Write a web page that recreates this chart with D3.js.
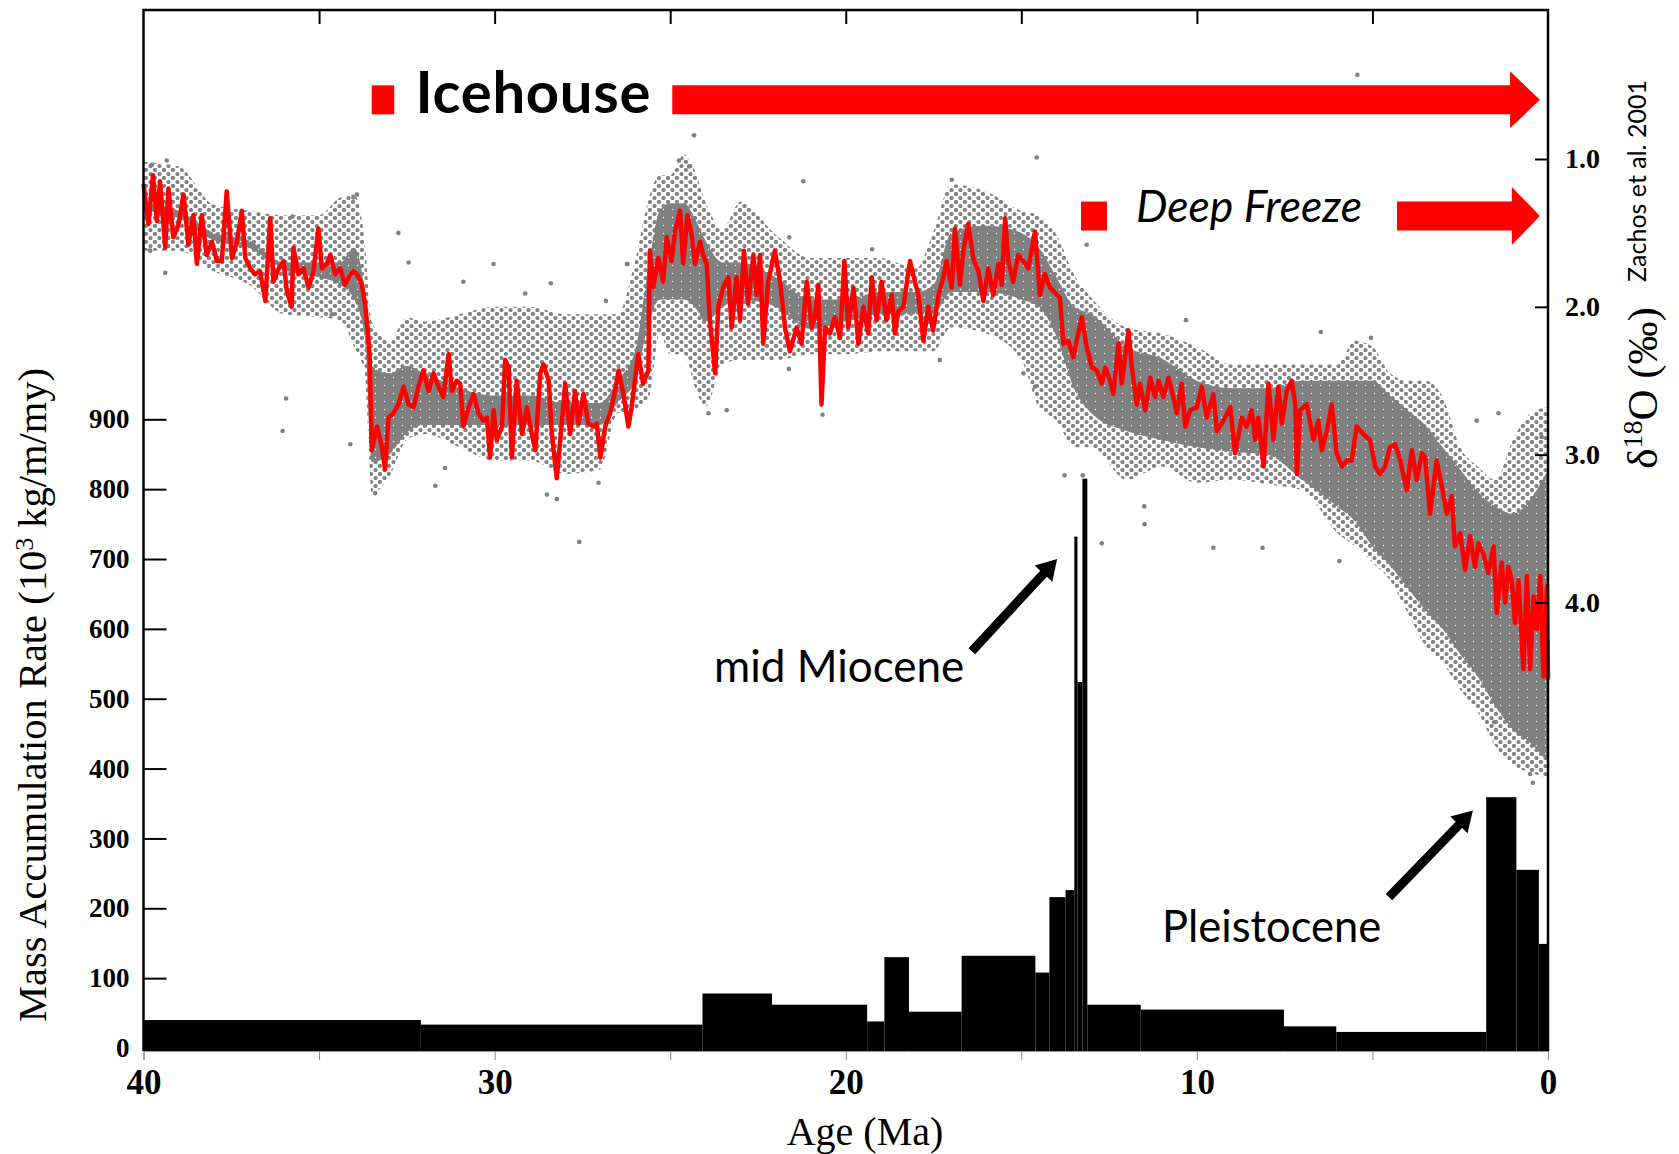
<!DOCTYPE html>
<html>
<head>
<meta charset="utf-8">
<script src="https://cdn.jsdelivr.net/npm/d3@7"></script>
<style>
  body { margin: 0; background: #fff; }
</style>
</head>
<body>
<div class="chart"></div>
<script>
// ---------------- data ----------------

// Mass accumulation rate, step bins (age edges in Ma, rate in 10^3 kg/m/my)
const barEdges = [40, 32.1, 24.08, 22.1, 19.39, 18.9, 18.2, 16.7, 14.6, 14.2, 13.74, 13.49, 13.40, 13.26, 13.12, 11.6, 7.52, 6.03, 1.76, 0.9, 0.26, 0];
const barRates = [40, 33.5, 78, 62, 38, 130, 52, 132, 108, 216, 226, 732, 524, 815, 62, 55, 31, 23, 359, 255, 149];

// smoothed d18O curve (Zachos et al. 2001), [age Ma, permil]
const d18oCurve = [
  [40.00,1.17],[39.86,1.44],[39.73,1.11],[39.62,1.42],[39.53,1.15],[39.38,1.60],[39.29,1.20],[39.15,1.53],[39.00,1.44],
  [38.86,1.24],[38.72,1.58],[38.58,1.38],[38.48,1.71],[38.34,1.38],[38.20,1.65],[38.05,1.56],[37.91,1.69],[37.77,1.69],
  [37.63,1.22],[37.48,1.67],[37.34,1.56],[37.20,1.35],[37.10,1.67],[36.96,1.74],[36.82,1.78],[36.68,1.76],[36.53,1.96],
  [36.39,1.40],[36.30,1.83],[36.15,1.74],[36.01,1.69],[35.92,1.89],[35.78,2.00],[35.73,1.60],[35.59,1.78],[35.44,1.74],
  [35.30,1.87],[35.16,1.76],[35.02,1.47],[34.92,1.74],[34.78,1.71],[34.68,1.65],[34.54,1.78],[34.40,1.74],[34.26,1.85],
  [34.11,1.78],[34.02,1.76],[33.92,1.78],[33.78,1.85],[33.69,1.98],[33.62,2.14],[33.56,2.34],[33.53,2.63],[33.50,2.97],
  [33.35,2.81],[33.21,2.95],[33.12,3.10],[33.02,2.75],[32.88,2.72],[32.74,2.66],[32.59,2.54],[32.45,2.66],[32.31,2.68],
  [32.17,2.54],[32.03,2.43],[31.88,2.57],[31.74,2.45],[31.60,2.54],[31.46,2.61],[31.31,2.32],[31.22,2.57],[31.08,2.50],
  [30.98,2.52],[30.89,2.81],[30.74,2.68],[30.60,2.59],[30.46,2.72],[30.32,2.77],[30.22,2.75],[30.13,3.02],[30.03,2.70],
  [29.94,2.90],[29.79,2.81],[29.70,2.36],[29.60,2.41],[29.51,3.02],[29.37,2.50],[29.22,2.86],[29.08,2.68],[28.94,2.86],
  [28.84,2.97],[28.70,2.45],[28.61,2.39],[28.46,2.50],[28.37,2.86],[28.23,3.16],[28.13,2.90],[27.99,2.52],[27.85,2.86],
  [27.71,2.57],[27.61,2.79],[27.47,2.59],[27.33,2.79],[27.18,2.81],[27.09,2.79],[26.99,3.02],[26.85,2.81],[26.71,2.72],
  [26.57,2.57],[26.47,2.43],[26.33,2.59],[26.19,2.81],[26.10,2.68],[25.91,2.32],[25.77,2.52],[25.62,2.43],[25.58,1.62],
  [25.48,1.87],[25.34,1.67],[25.20,1.83],[25.10,1.53],[24.96,1.69],[24.86,1.49],[24.72,1.35],[24.63,1.71],[24.51,1.38],
  [24.39,1.51],[24.29,1.71],[24.15,1.56],[24.06,1.65],[23.96,1.71],[23.87,2.09],[23.72,2.45],[23.63,2.00],[23.49,1.87],
  [23.34,1.80],[23.25,2.14],[23.11,1.80],[23.01,2.09],[22.90,1.62],[22.78,1.98],[22.63,1.65],[22.54,1.92],[22.44,1.65],
  [22.35,2.25],[22.21,1.83],[22.02,1.62],[21.87,1.83],[21.73,2.14],[21.59,2.30],[21.40,2.14],[21.26,2.25],[21.11,1.83],
  [20.97,2.14],[20.88,2.07],[20.78,1.85],[20.69,2.66],[20.59,2.14],[20.45,2.18],[20.31,2.07],[20.16,2.21],[20.04,1.69],
  [19.93,2.14],[19.78,1.87],[19.64,2.25],[19.50,2.00],[19.36,2.18],[19.26,1.80],[19.12,2.09],[18.98,1.83],[18.84,2.09],
  [18.69,1.92],[18.60,2.18],[18.50,2.03],[18.36,2.00],[18.17,1.69],[18.03,1.83],[17.93,1.92],[17.79,2.23],[17.65,2.00],
  [17.51,2.16],[17.36,1.92],[17.22,1.80],[17.13,1.69],[16.98,1.87],[16.89,1.47],[16.75,1.85],[16.65,1.62],[16.51,1.44],
  [16.37,1.67],[16.22,1.76],[16.08,1.96],[15.94,1.74],[15.80,1.92],[15.65,1.71],[15.56,1.85],[15.46,1.40],[15.37,1.69],
  [15.23,1.83],[15.09,1.65],[14.94,1.69],[14.80,1.74],[14.61,1.49],[14.47,1.92],[14.33,1.78],[14.18,1.87],[13.90,1.94],
  [13.80,2.25],[13.66,2.23],[13.52,2.34],[13.28,2.07],[13.14,2.27],[12.99,2.41],[12.85,2.43],[12.71,2.52],[12.61,2.41],
  [12.47,2.50],[12.38,2.59],[12.23,2.25],[12.14,2.52],[11.95,2.16],[11.85,2.41],[11.71,2.66],[11.62,2.52],[11.47,2.70],
  [11.33,2.48],[11.19,2.61],[11.09,2.50],[10.95,2.61],[10.81,2.48],[10.67,2.61],[10.57,2.72],[10.43,2.52],[10.33,2.81],
  [10.19,2.70],[10.00,2.68],[9.86,2.54],[9.72,2.75],[9.53,2.59],[9.43,2.84],[9.24,2.77],[9.05,2.68],[8.91,2.99],
  [8.72,2.75],[8.58,2.81],[8.44,2.70],[8.34,2.90],[8.25,2.75],[8.10,3.08],[7.96,2.52],[7.82,2.90],[7.68,2.54],
  [7.58,2.79],[7.44,2.57],[7.30,2.50],[7.20,2.66],[7.15,3.13],[7.06,2.70],[6.87,2.66],[6.68,2.90],[6.54,2.77],
  [6.44,2.97],[6.30,2.84],[6.16,2.66],[6.02,2.99],[5.87,3.08],[5.73,3.04],[5.59,3.04],[5.45,2.81],[5.26,2.86],
  [5.07,2.90],[4.92,3.08],[4.78,3.13],[4.64,3.08],[4.50,2.95],[4.35,2.93],[4.21,3.04],[4.02,3.24],[3.88,2.97],
  [3.74,3.17],[3.59,2.99],[3.50,3.02],[3.36,3.40],[3.17,3.04],[3.02,3.22],[2.88,3.40],[2.74,3.28],[2.65,3.62],
  [2.50,3.53],[2.36,3.78],[2.22,3.55],[2.08,3.76],[1.98,3.60],[1.84,3.67],[1.70,3.80],[1.55,3.62],[1.46,4.07],
  [1.32,3.73],[1.22,4.00],[1.13,3.76],[1.03,3.85],[0.94,4.14],[0.84,3.85],[0.70,4.45],[0.60,3.82],[0.51,4.45],
  [0.41,3.96],[0.32,4.18],[0.22,3.82],[0.13,4.50],[0.03,3.89],[0.00,4.52]
];

// spread of the raw d18O measurements: outer (sparse) and core (dense) envelopes
const envAge   = [40, 39, 38, 37, 36, 35, 34.4, 34, 33.7, 33.5, 33, 32.5, 32, 31, 30, 29, 28, 27, 26.5, 26, 25.6, 25.3, 25, 24.6, 24.3, 24, 23.5, 23, 22, 21, 20, 19, 18, 17.5, 17, 16, 15, 14.5, 14, 13.5, 13, 12, 11, 10, 9, 8, 7, 6, 5.5, 5, 4.5, 4, 3.5, 3, 2.5, 2, 1.5, 1, 0.5, 0];
const outerTop = [1.02, 1.05, 1.31, 1.35, 1.38, 1.38, 1.26, 1.24, 1.56, 2.1, 2.23, 2.07, 2.1, 2.05, 2.0, 2.0, 2.05, 2.05, 2.05, 1.69, 1.26, 1.11, 1.11, 0.97, 1.08, 1.29, 1.47, 1.29, 1.51, 1.67, 1.67, 1.67, 1.74, 1.49, 1.17, 1.22, 1.35, 1.38, 1.51, 1.78, 1.94, 2.14, 2.18, 2.27, 2.39, 2.39, 2.39, 2.39, 2.23, 2.27, 2.45, 2.5, 2.5, 2.61, 2.95, 3.08, 3.17, 2.9, 2.72, 2.68];
const outerBot = [1.62, 1.62, 1.76, 1.85, 2.05, 2.07, 2.09, 2.27, 2.45, 3.26, 3.15, 2.9, 2.86, 2.95, 3.04, 3.04, 3.13, 3.1, 2.72, 2.7, 2.61, 2.18, 2.32, 2.32, 2.54, 2.68, 2.39, 2.36, 2.36, 2.32, 2.32, 2.3, 2.3, 2.3, 2.14, 2.18, 2.36, 2.68, 2.77, 2.95, 2.95, 3.17, 3.08, 3.19, 3.17, 3.2, 3.24, 3.53, 3.62, 3.73, 3.85, 4.07, 4.29, 4.41, 4.59, 4.74, 4.97, 5.1, 5.15, 5.19];
const coreTop  = [1.3, 1.35, 1.5, 1.55, 1.7, 1.7, 1.7, 1.6, 1.9, 2.4, 2.45, 2.4, 2.45, 2.55, 2.6, 2.6, 2.65, 2.65, 2.5, 2.3, 1.7, 1.35, 1.3, 1.3, 1.4, 1.55, 1.7, 1.7, 1.8, 1.95, 1.95, 1.9, 1.9, 1.85, 1.5, 1.45, 1.5, 1.6, 1.8, 2.0, 2.05, 2.27, 2.35, 2.5, 2.55, 2.55, 2.5, 2.5, 2.5, 2.5, 2.6, 2.7, 2.8, 2.95, 3.1, 3.25, 3.35, 3.4, 3.3, 3.1];
const coreBot  = [1.35, 1.4, 1.55, 1.6, 1.75, 1.8, 1.85, 1.95, 2.2, 3.05, 3.0, 2.85, 2.8, 2.8, 2.8, 2.8, 2.8, 2.8, 2.65, 2.5, 2.1, 1.95, 1.95, 1.95, 2.0, 2.1, 2.0, 1.95, 2.0, 2.15, 2.1, 2.05, 2.05, 2.05, 1.9, 1.9, 1.95, 2.0, 2.2, 2.55, 2.72, 2.84, 2.9, 2.95, 2.98, 3.0, 3.17, 3.35, 3.45, 3.62, 3.75, 3.9, 4.05, 4.18, 4.35, 4.5, 4.7, 4.86, 4.95, 5.08];

// isolated measurements away from the main cloud
const strayAge = [39.76, 39.34, 39.38, 39.81, 35.94, 36.04, 34.11, 32.74, 32.45, 30.03, 30.89, 29.13, 28.40, 26.23, 33.40, 31.69, 31.41, 28.51, 28.23, 27.04, 33.92, 34.02, 35.76, 34.64, 24.32, 24.75, 24.46, 21.21, 14.56, 16.98, 21.61, 20.66, 23.39, 23.91, 21.62, 14.94, 14.61, 13.14, 26.83, 26.22, 17.32, 19.25, 12.71, 9.53, 8.13, 11.49, 11.50, 5.94, 1.53, 0.51, 10.31, 5.04, 6.47, 1.41, 2.03, 0.18, 13.77, 13.25, 3.34, 5.26, 5.43, 0.43, 27.59];
const strayVal = [1.04, 1.01, 1.77, 1.62, 2.62, 2.84, 2.93, 1.50, 1.70, 1.71, 1.83, 1.91, 1.84, 1.71, 3.26, 3.21, 3.09, 3.27, 3.30, 3.19, 1.24, 1.26, 1.39, 2.05, 0.84, 1.01, 1.05, 1.15, 0.99, 1.14, 1.53, 2.73, 2.70, 2.72, 2.42, 2.45, 2.54, 1.58, 1.96, 1.71, 2.36, 1.61, 3.60, 3.63, 3.63, 3.47, 3.35, 3.72, 4.81, 5.16, 2.09, 2.21, 2.17, 2.72, 2.77, 2.88, 3.14, 3.14, 3.86, 3.42, 0.43, 5.22, 3.59];

// axis ticks
const rateTicks = [0, 100, 200, 300, 400, 500, 600, 700, 800, 900];
const isoTicks = [1, 2, 3, 4];
const ageTicks = [40, 35, 30, 25, 20, 15, 10, 5, 0];

// ---------------- layout ----------------
const width = 1679, height = 1154;
const plotLeft = 143.5, plotRight = 1548, plotTop = 10, plotBottom = 1051;
const serif = "'Liberation Serif', 'Times New Roman', serif";
const sans = "Lato, 'Open Sans', sans-serif";

const svg = d3.select(".chart")
    .append("svg")
    .attr("width", width)
    .attr("height", height)
    .style("background", "#fff");

const xAge = d3.scaleLinear().domain([40, 0]).range([plotLeft, plotRight]);
const yRate = d3.scaleLinear().domain([0, 900]).range([1048, 419.3]);
const yIso = d3.scaleLinear().domain([1, 4]).range([159, 602.5]);

// dotted textures for the scatter cloud (sparse edge, dense core)
const defs = svg.append("defs");
const sparse = defs.append("pattern")
    .attr("id", "sparseDots")
    .attr("patternUnits", "userSpaceOnUse")
    .attr("width", 9)
    .attr("height", 8);
sparse.append("circle").attr("cx", 2).attr("cy", 2).attr("r", 2.1).attr("fill", "#808080");
sparse.append("circle").attr("cx", 6.5).attr("cy", 6).attr("r", 2.1).attr("fill", "#808080");

const dense = defs.append("pattern")
    .attr("id", "denseDots")
    .attr("patternUnits", "userSpaceOnUse")
    .attr("width", 9)
    .attr("height", 8);
dense.append("rect").attr("width", 9).attr("height", 8).attr("fill", "#808080");
dense.append("circle").attr("cx", 6.5).attr("cy", 1.5).attr("r", 0.7).attr("fill", "#fff");

// scatter envelopes
const envelope = envAge.map((a, i) => ({ age: a, ot: outerTop[i], ob: outerBot[i], ct: coreTop[i], cb: coreBot[i] }));

svg.append("path")
    .datum(envelope)
    .attr("d", d3.area().x(d => xAge(d.age)).y0(d => yIso(d.ot)).y1(d => yIso(d.ob)).curve(d3.curveMonotoneX))
    .attr("fill", "url(#sparseDots)");

svg.append("path")
    .datum(envelope)
    .attr("d", d3.area().x(d => xAge(d.age)).y0(d => yIso(d.ct)).y1(d => yIso(d.cb)).curve(d3.curveMonotoneX))
    .attr("fill", "url(#denseDots)");

// isolated gray dots
svg.append("g")
    .selectAll("circle")
    .data(strayAge.map((a, i) => [a, strayVal[i]]))
    .join("circle")
    .attr("cx", d => xAge(d[0]))
    .attr("cy", d => yIso(d[1]))
    .attr("r", 2.3)
    .attr("fill", "#808080");

// red smoothed curve
svg.append("path")
    .datum(d18oCurve)
    .attr("d", d3.line().x(d => xAge(d[0])).y(d => yIso(d[1])))
    .attr("fill", "none")
    .attr("stroke", "#ff0000")
    .attr("stroke-width", 4.5)
    .attr("stroke-linejoin", "round");

// mass accumulation bars
const bins = barRates.map((r, i) => ({ from: barEdges[i], to: barEdges[i + 1], rate: r }));
svg.append("g")
    .selectAll("rect")
    .data(bins)
    .join("rect")
    .attr("x", d => xAge(d.from))
    .attr("width", d => xAge(d.to) - xAge(d.from))
    .attr("y", d => yRate(d.rate))
    .attr("height", d => plotBottom - yRate(d.rate))
    .attr("fill", "#000");

// ---------------- annotations ----------------
function blockArrow(x0, xHead, xTip, yc, half, headHalf) {
    return `M${x0},${yc - half}L${xHead},${yc - half}L${xHead},${yc - headHalf}L${xTip},${yc}` +
        `L${xHead},${yc + headHalf}L${xHead},${yc + half}L${x0},${yc + half}Z`;
}
function lineArrow(x1, y1, x2, y2, w, headLen, headW) {
    const len = Math.hypot(x2 - x1, y2 - y1), ux = (x2 - x1) / len, uy = (y2 - y1) / len;
    const px = -uy, py = ux;
    const bx = x2 - ux * headLen, by = y2 - uy * headLen;
    const pts = [
        [x1 + px * w / 2, y1 + py * w / 2], [bx + px * w / 2, by + py * w / 2], [bx + px * headW / 2, by + py * headW / 2],
        [x2, y2],
        [bx - px * headW / 2, by - py * headW / 2], [bx - px * w / 2, by - py * w / 2], [x1 - px * w / 2, y1 - py * w / 2]
    ];
    return "M" + pts.map(p => p.join(",")).join("L") + "Z";
}

// Icehouse
const iceY = yIso(0.6);
svg.append("rect")
    .attr("x", xAge(33.5)).attr("y", iceY - 14.5)
    .attr("width", xAge(32.86) - xAge(33.5)).attr("height", 29)
    .attr("fill", "#ff0000");
svg.append("text")
    .attr("x", 415.5).attr("y", 113)
    .attr("textLength", 235)
    .style("font-family", sans).style("font-weight", "bold").style("font-size", "58px")
    .text("Icehouse");
svg.append("path")
    .attr("d", blockArrow(xAge(24.94), xAge(1.08), xAge(0.23), iceY, 14.5, 28.5))
    .attr("fill", "#ff0000");

// Deep Freeze
const deepY = yIso(1.386);
svg.append("rect")
    .attr("x", xAge(13.3)).attr("y", deepY - 14.5)
    .attr("width", xAge(12.56) - xAge(13.3)).attr("height", 29)
    .attr("fill", "#ff0000");
svg.append("text")
    .attr("x", 1136).attr("y", 222)
    .style("font-family", sans).style("font-style", "italic").style("font-size", "44.5px")
    .text("Deep Freeze");
svg.append("path")
    .attr("d", blockArrow(xAge(4.3), xAge(1.03), xAge(0.23), deepY, 14.5, 29))
    .attr("fill", "#ff0000");

// mid Miocene / Pleistocene callouts
svg.append("text")
    .attr("x", 714).attr("y", 682)
    .style("font-family", sans).style("font-size", "44px")
    .text("mid Miocene");
svg.append("path")
    .attr("d", lineArrow(xAge(16.41), yRate(568), xAge(13.98), yRate(700), 9, 20, 24))
    .attr("fill", "#000");
svg.append("text")
    .attr("x", 1162).attr("y", 942)
    .style("font-family", sans).style("font-size", "43.5px")
    .text("Pleistocene");
svg.append("path")
    .attr("d", lineArrow(xAge(4.53), yRate(216), xAge(2.14), yRate(340), 9, 20, 24))
    .attr("fill", "#000");

// ---------------- axes & frame ----------------
const leftAxis = svg.append("g")
    .attr("transform", `translate(${plotLeft},0)`)
    .call(d3.axisLeft(yRate).tickValues(rateTicks).tickSize(-23).tickPadding(14));
leftAxis.select(".domain").remove();
leftAxis.selectAll(".tick line").attr("stroke", "#000").attr("stroke-width", 2);
leftAxis.selectAll(".tick").filter(d => d === 0).select("line").remove();
leftAxis.selectAll("text")
    .style("font-family", serif).style("font-weight", "bold").style("font-size", "27px").attr("fill", "#000");

const rightAxis = svg.append("g")
    .attr("transform", `translate(${plotRight},0)`)
    .call(d3.axisRight(yIso).tickValues(isoTicks).tickFormat(d3.format(".1f")).tickSize(-13).tickPadding(17));
rightAxis.select(".domain").remove();
rightAxis.selectAll(".tick line").attr("stroke", "#000").attr("stroke-width", 2);
rightAxis.selectAll("text")
    .style("font-family", serif).style("font-weight", "bold").style("font-size", "28px").attr("fill", "#000");

const bottomAxis = svg.append("g")
    .attr("transform", `translate(0,${plotBottom})`)
    .call(d3.axisBottom(xAge).tickValues(ageTicks).tickSize(9).tickPadding(9)
        .tickFormat(d => d % 10 === 0 ? d : ""));
bottomAxis.select(".domain").attr("stroke", "#999").attr("stroke-width", 1);
bottomAxis.selectAll(".tick line").attr("stroke", "#888").attr("stroke-width", 1);
bottomAxis.selectAll("text")
    .style("font-family", serif).style("font-weight", "bold").style("font-size", "35px").attr("fill", "#000");

const topAxis = svg.append("g")
    .attr("transform", `translate(0,${plotTop})`)
    .call(d3.axisTop(xAge).tickValues(ageTicks.filter(d => d > 0 && d < 40)).tickSize(-14).tickFormat(""));
topAxis.select(".domain").remove();
topAxis.selectAll(".tick line").attr("stroke", "#000").attr("stroke-width", 2);

// frame: top, left, right
svg.append("path")
    .attr("d", `M${plotLeft},${plotBottom}V${plotTop}H${plotRight}V${plotBottom}`)
    .attr("fill", "none")
    .attr("stroke", "#000")
    .attr("stroke-width", 2.5);

// axis titles
svg.append("text")
    .attr("x", 865).attr("y", 1145)
    .attr("text-anchor", "middle")
    .style("font-family", serif).style("font-size", "40px")
    .text("Age (Ma)");

const leftTitle = svg.append("text")
    .attr("transform", "translate(46,695) rotate(-90)")
    .attr("text-anchor", "middle")
    .style("font-family", serif).style("font-size", "40.5px");
leftTitle.append("tspan").text("Mass Accumulation Rate (10");
leftTitle.append("tspan").attr("dy", -13).style("font-size", "26px").text("3");
leftTitle.append("tspan").attr("dy", 13).text(" kg/m/my)");

const rightTitle = svg.append("text")
    .attr("transform", "translate(1657,388) rotate(-90)")
    .attr("text-anchor", "middle")
    .style("font-family", serif).style("font-size", "43px");
rightTitle.append("tspan").text("\u03B4");
rightTitle.append("tspan").attr("dy", -15).style("font-size", "28px").text("18");
rightTitle.append("tspan").attr("dy", 15).text("O (\u2030)");

svg.append("text")
    .attr("transform", "translate(1646,181) rotate(-90)")
    .attr("text-anchor", "middle")
    .style("font-family", sans).style("font-size", "25px")
    .text("Zachos et al. 2001");
</script>
</body>
</html>
